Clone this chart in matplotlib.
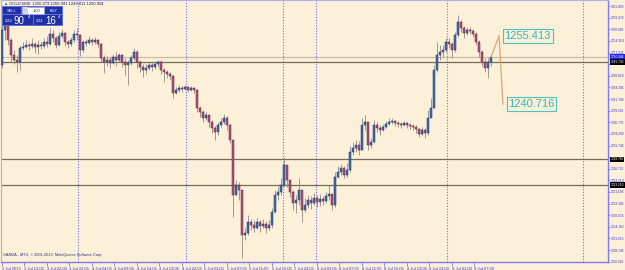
import numpy as np
import matplotlib.pyplot as plt
from matplotlib.patches import Rectangle

plt.rcParams['font.family'] = ['Liberation Sans', 'DejaVu Sans']

# GOLD M30, 2 Jul - 9 Jul 2013
first_open = 1249.2
closes = [1256.7, 1257.8, 1254.6, 1251.3, 1250.2, 1249.8, 1252.8, 1253.0, 1253.5, 1253.3,
          1253.7, 1253.0, 1253.5, 1253.3, 1254.1, 1253.7, 1255.8, 1255.0, 1253.5, 1255.4,
          1256.1, 1254.1, 1253.7, 1254.6, 1255.8, 1255.6, 1252.4, 1254.1, 1253.9, 1254.6,
          1254.1, 1254.6, 1253.7, 1250.7, 1249.8, 1250.2, 1249.6, 1250.9, 1250.2, 1251.3,
          1249.8, 1249.2, 1249.6, 1250.7, 1252.0, 1249.8, 1248.7, 1248.1, 1248.5, 1249.2,
          1248.7, 1249.4, 1249.8, 1248.1, 1247.6, 1247.2, 1246.8, 1243.1, 1243.7, 1244.2,
          1244.0, 1244.4, 1243.7, 1244.2, 1243.7, 1239.9, 1239.0, 1237.7, 1238.3, 1236.8,
          1235.5, 1234.7, 1236.2, 1236.8, 1237.7, 1236.2, 1232.9, 1221.1, 1223.2, 1222.1,
          1212.4, 1212.8, 1215.2, 1214.6, 1213.9, 1215.2, 1214.4, 1214.8, 1213.9, 1214.6,
          1217.4, 1221.1, 1221.7, 1223.2, 1227.5, 1224.3, 1221.7, 1219.3, 1220.0, 1222.1,
          1217.8, 1218.9, 1220.0, 1219.3, 1220.4, 1219.5, 1220.2, 1219.8, 1220.8, 1221.3,
          1218.9, 1224.9, 1226.0, 1226.9, 1225.4, 1226.5, 1230.3, 1231.2, 1231.9, 1230.8,
          1236.2, 1236.8, 1231.9, 1232.5, 1236.2, 1235.5, 1235.1, 1235.8, 1236.4, 1236.8,
          1237.1, 1236.6, 1236.4, 1236.2, 1236.6, 1236.2, 1236.0, 1235.8, 1235.3, 1234.2,
          1235.1, 1234.5, 1237.7, 1239.9, 1248.1, 1251.3, 1252.0, 1252.4, 1254.1, 1253.7,
          1252.4, 1255.6, 1258.4, 1257.1, 1256.1, 1256.7, 1256.5, 1255.8, 1254.1, 1252.0,
          1249.8, 1248.5, 1249.8, 1250.9]
highs = [1259.3, 1260.0, 1258.4, 1255.0, 1252.4, 1251.3, 1253.5, 1254.1, 1254.6, 1254.1,
         1255.0, 1254.1, 1254.6, 1254.1, 1255.0, 1255.4, 1257.1, 1256.7, 1255.4, 1256.3,
         1256.9, 1256.3, 1254.6, 1255.2, 1256.7, 1257.1, 1255.8, 1254.6, 1254.8, 1255.4,
         1255.0, 1255.2, 1254.8, 1253.9, 1251.3, 1251.1, 1250.9, 1251.5, 1252.0, 1251.7,
         1251.5, 1250.7, 1250.2, 1251.3, 1252.8, 1252.4, 1250.2, 1249.4, 1249.4, 1249.8,
         1249.6, 1250.0, 1250.2, 1250.2, 1248.5, 1248.1, 1247.6, 1247.0, 1244.4, 1244.8,
         1244.6, 1244.8, 1244.6, 1244.6, 1244.4, 1244.0, 1240.3, 1239.4, 1239.0, 1238.6,
         1237.3, 1236.0, 1236.8, 1237.7, 1238.6, 1238.1, 1236.4, 1232.9, 1224.3, 1223.9,
         1222.1, 1213.9, 1216.7, 1215.9, 1215.7, 1216.1, 1215.7, 1215.9, 1215.4, 1215.7,
         1218.2, 1222.1, 1222.8, 1224.7, 1229.3, 1227.5, 1224.3, 1222.1, 1221.1, 1224.7,
         1222.1, 1220.4, 1221.1, 1220.8, 1221.5, 1221.1, 1221.3, 1220.8, 1221.7, 1223.2,
         1221.3, 1226.0, 1227.3, 1227.8, 1227.3, 1228.0, 1231.6, 1232.5, 1232.9, 1232.7,
         1237.7, 1238.3, 1236.8, 1233.4, 1237.3, 1236.8, 1236.2, 1236.4, 1237.1, 1237.7,
         1237.7, 1237.3, 1237.1, 1236.8, 1237.1, 1236.8, 1236.6, 1236.4, 1236.2, 1235.5,
         1235.8, 1235.5, 1239.4, 1242.0, 1249.2, 1254.1, 1253.5, 1253.5, 1255.0, 1255.0,
         1254.1, 1256.3, 1260.0, 1258.9, 1257.6, 1257.4, 1257.4, 1256.9, 1256.3, 1254.6,
         1252.4, 1250.7, 1250.7, 1251.1]
lows = [1248.5, 1254.6, 1253.5, 1249.8, 1249.4, 1247.6, 1248.1, 1252.4, 1252.8, 1252.4,
        1252.8, 1251.7, 1251.5, 1252.6, 1252.8, 1253.0, 1253.5, 1254.1, 1252.8, 1253.3,
        1255.0, 1253.3, 1252.8, 1253.3, 1254.1, 1254.6, 1251.1, 1252.0, 1253.3, 1253.7,
        1253.5, 1253.7, 1253.0, 1249.8, 1247.4, 1248.9, 1248.5, 1249.4, 1248.9, 1249.8,
        1248.7, 1247.0, 1244.8, 1249.2, 1250.2, 1248.5, 1247.6, 1246.6, 1247.2, 1248.1,
        1247.9, 1248.3, 1248.7, 1247.2, 1245.5, 1246.3, 1245.9, 1242.0, 1242.9, 1243.3,
        1243.3, 1243.7, 1243.3, 1243.5, 1243.1, 1239.0, 1237.9, 1236.8, 1237.3, 1235.8,
        1234.5, 1232.9, 1234.0, 1235.8, 1236.4, 1235.1, 1232.3, 1216.3, 1221.1, 1220.0,
        1207.4, 1211.3, 1212.4, 1213.5, 1213.1, 1213.7, 1213.1, 1213.9, 1212.8, 1213.5,
        1213.9, 1217.2, 1220.0, 1221.1, 1222.8, 1222.8, 1220.6, 1217.8, 1217.2, 1218.9,
        1215.2, 1217.4, 1218.2, 1218.0, 1218.9, 1218.5, 1218.7, 1218.9, 1219.3, 1220.0,
        1217.8, 1218.5, 1224.7, 1225.4, 1224.7, 1224.9, 1226.0, 1229.7, 1230.3, 1229.7,
        1230.8, 1235.1, 1230.8, 1231.2, 1232.3, 1234.7, 1234.0, 1234.9, 1235.5, 1236.2,
        1236.4, 1236.0, 1235.8, 1235.5, 1236.0, 1235.5, 1235.3, 1235.1, 1234.5, 1233.6,
        1234.0, 1233.4, 1234.0, 1238.3, 1239.9, 1247.6, 1250.2, 1250.9, 1252.0, 1252.8,
        1250.7, 1252.0, 1255.2, 1256.3, 1255.0, 1255.6, 1255.8, 1255.2, 1253.5, 1250.9,
        1248.9, 1247.6, 1246.3, 1248.9]

bid = 1250.904
ask = 1251.164
level_lines = [1249.730, 1228.760, 1223.210]
proj_prices = [1255.413, 1240.716]
price_ticks = [1261.890, 1259.378, 1256.866, 1254.354, 1251.842, 1249.330, 1246.818,
               1244.306, 1241.794, 1239.282, 1236.770, 1234.258, 1231.746, 1229.234,
               1226.722, 1224.210, 1221.698, 1219.186, 1216.674, 1214.162, 1211.650,
               1209.138, 1206.626]
time_labels = ['2 Jul 2013', '2 Jul 13:00', '3 Jul 02:00', '3 Jul 22:05', '4 Jul 04:05',
               '4 Jul 09:05', '4 Jul 14:05', '4 Jul 19:05', '4 Jul 22:05', '5 Jul 03:05',
               '5 Jul 07:05', '5 Jul 11:05', '5 Jul 15:05', '7 Jul 23:05', '8 Jul 03:05',
               '8 Jul 07:05', '8 Jul 11:05', '8 Jul 15:05', '8 Jul 19:05', '8 Jul 23:00',
               '9 Jul 03:00', '9 Jul 07:00']
day_breaks = [25.33, 61.33, 93.67, 104.67, 148.33, 193.67]

bg = '#fdf0d8'
frame = '#7b7bef'
W, H = 625, 270

fig = plt.figure(figsize=(W / 100, H / 100), dpi=100, facecolor=bg)
ax = fig.add_axes([1 / W, 8 / H, 607 / W, 262 / H], facecolor=bg)

n = len(closes)
x = np.arange(n)
opens = np.array([first_open] + closes[:-1])
c = np.array(closes)
up = c >= opens

# period separators
for d in day_breaks:
    ax.axvline(d, color='#6b6bff', lw=0.8, ls=(0, (1, 1.5)), zorder=1)

# horizontal lines
ax.axhline(bid, color='#c9bfa8', lw=0.9, zorder=1)
for lv in level_lines:
    ax.axhline(lv, color='#6f6f58', lw=0.9, zorder=1)

# candles
ax.vlines(x, lows, highs, color='#8f8a86', lw=0.6, zorder=2)
body_lo = np.minimum(opens, c)
body_h = np.abs(c - opens)
ax.bar(x[up], body_h[up], bottom=body_lo[up], width=0.55,
       color='#3f72ad', edgecolor='#1d2f6a', lw=0.35, zorder=3)
ax.bar(x[~up], body_h[~up], bottom=body_lo[~up], width=0.55,
       color='#a8577a', edgecolor='#6a1d3e', lw=0.35, zorder=3)

# projection lines and labels
px = [n - 1, n + 1.67, n + 3]
ax.plot(px[:2], [closes[-1], proj_prices[0]], color='#d9a678', lw=0.9, zorder=4)
ax.plot(px[1:], proj_prices, color='#d9a678', lw=0.9, zorder=4)
lab_x = [n + 3.5, n + 4.8]
for lx, p in zip(lab_x, proj_prices):
    ax.text(lx, p, f'{p:.3f}', color='#2fb8bd', fontsize=8, va='center', ha='left',
            zorder=5, bbox=dict(boxstyle='square,pad=0.15', fc=bg, ec='#49c3c3', lw=0.8))

ax.set_xlim(-0.33, 202)
ax.set_ylim(1206.57, 1263.19)

# axes frame
for s in ['left', 'top']:
    ax.spines[s].set_color('#aab0f0')
    ax.spines[s].set_linewidth(0.8)
for s in ['right', 'bottom']:
    ax.spines[s].set_color(frame)
    ax.spines[s].set_linewidth(1.0)

# labels hidden behind the black price tags are left blank
hidden = {1249.330, 1229.234}
ax.yaxis.tick_right()
ax.set_yticks(price_ticks)
ax.set_yticklabels(['' if v in hidden else f'{v:.3f}' for v in price_ticks])
ax.tick_params(axis='y', colors=frame, labelcolor='#3535c8', labelsize=2.35,
               length=1.5, width=0.6, pad=0.6)
ax.set_xticks(np.arange(len(time_labels)) * 7.5)
ax.set_xticklabels(time_labels, ha='left')
ax.tick_params(axis='x', colors=frame, labelcolor='#3535c8', labelsize=3.0,
               length=3, width=0.6, pad=0.5)

# price tags on the right scale
ytr = ax.get_yaxis_transform()
ax.text(1.004, bid, f'{bid:.3f}', transform=ytr, fontsize=2.35, color='white',
        va='center', ha='left', clip_on=False, zorder=6,
        bbox=dict(boxstyle='square,pad=0.25', fc='#1e1ef0', ec='none'))
for lv in level_lines:
    ax.text(1.004, lv, f'{lv:.3f}', transform=ytr, fontsize=2.35, color='white',
            va='center', ha='left', clip_on=False, zorder=6,
            bbox=dict(boxstyle='square,pad=0.25', fc='black', ec='none'))

# chart header and copyright
fig.text(9 / W, 1 - 4 / H, f'GOLD,M30  1250.273 1250.991 1249.811 {bid:.3f}',
         fontsize=3.0, color='#1a1a60', va='center', ha='left')
fig.text(3 / W, 1 - 4 / H, '\u25b2', fontsize=3, color='#3050c0', va='center')
ax.text(0.004, 0.018, 'OANDA - MT4, \u00a9 2001-2013, MetaQuotes Software Corp.',
        transform=ax.transAxes, fontsize=2.8, color='#303078', va='bottom')


# one-click trading panel
def px_rect(x0, y0, w, h, **kw):
    fig.add_artist(Rectangle((x0 / W, 1 - (y0 + h) / H), w / W, h / H,
                             transform=fig.transFigure, **kw))


def px_text(x0, y0, s, **kw):
    fig.text(x0 / W, 1 - y0 / H, s, **kw)


blue = '#1f2fa6'
px_rect(2, 6, 61, 20, fc='#5c6fd0', ec='none')
px_rect(3, 7, 18, 7, fc=blue, ec='none')
px_rect(22, 7, 22, 7, fc='white', ec='#9aa0c0', lw=0.4)
px_rect(22.5, 7.5, 5, 6, fc='#d8d8d8', ec='none')
px_rect(45, 7, 17, 7, fc=blue, ec='none')
px_rect(3, 15, 30, 10, fc=blue, ec='none')
px_rect(34, 15, 28, 10, fc=blue, ec='none')
px_text(12, 10.5, 'SELL', fontsize=2.8, color='white', ha='center', va='center')
px_text(53.5, 10.5, 'BUY', fontsize=2.8, color='white', ha='center', va='center')
px_text(25, 10.5, '-', fontsize=3, color='#404040', ha='center', va='center')
px_text(36, 10.5, '1.00', fontsize=2.8, color='#202020', ha='center', va='center')
px_text(5, 21.5, '1250', fontsize=2.4, color='white', ha='left', va='center')
px_text(14, 20.5, '90', fontsize=7, color='white', ha='left', va='center')
px_text(28, 17.5, '4', fontsize=3.2, color='white', ha='left', va='center')
px_text(36, 21.5, '1251', fontsize=2.4, color='white', ha='left', va='center')
px_text(45, 20.5, '16', fontsize=7, color='white', ha='left', va='center')
px_text(58, 17.5, '4', fontsize=3.2, color='white', ha='left', va='center')

fig.savefig('out.png', dpi=100, facecolor=bg)
